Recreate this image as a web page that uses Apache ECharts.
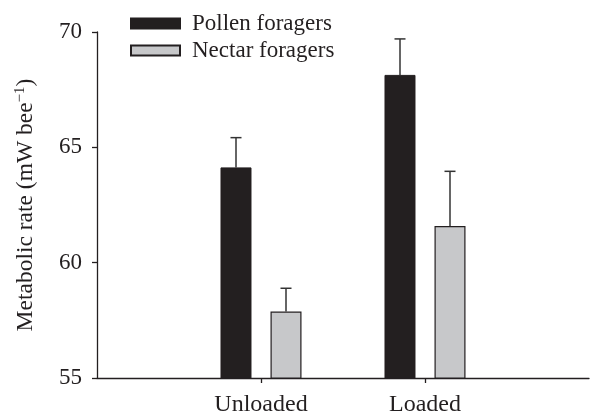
<!DOCTYPE html>
<html>
<head>
<meta charset="utf-8">
<script src="https://cdn.jsdelivr.net/npm/echarts@6/dist/echarts.min.js"></script>
<style>
  html, body { margin: 0; padding: 0; background: #fff; }
  #chart { width: 592px; height: 417px; }
</style>
</head>
<body>
<div id="chart"></div>
<script>
// Metabolic rate of pollen vs nectar foragers, unloaded and loaded (mean + SE)
const categories = ['Unloaded', 'Loaded'];
const seriesNames = ['Pollen foragers', 'Nectar foragers'];
const pollenMean = [64.13, 68.14];
const pollenSE = [1.29, 1.56];
const nectarMean = [57.88, 61.59];
const nectarSE = [1.01, 2.37];
const yTicks = [55, 60, 65, 70];

const FONT = '"Liberation Serif", "DejaVu Serif", serif';
const INK = '#231f20';
const POLLEN_FILL = '#231f20';
const NECTAR_FILL = '#c7c8ca';
const BAR_W = 31;
const BAR_GAP_PX = 19;

// Pad the category axis with blank slots so the two groups sit at 1/3 and 2/3
const axisCats = [''].concat(categories, ['']);
const pad = v => ['-'].concat(v, ['-']);

function errorData(means, se) {
  return means.map((m, i) => [i + 1, m, m + se[i]]);
}

function errorSeries(name, means, se, side) {
  return {
    type: 'custom',
    name: name + ' SE',
    silent: true,
    z: 1,
    data: errorData(means, se),
    renderItem: function (params, api) {
      const base = api.coord([api.value(0), api.value(1)]);
      const top = api.coord([api.value(0), api.value(2)]);
      const x = base[0] + side * (BAR_W + BAR_GAP_PX) / 2;
      const capHalf = 5.5;
      const style = { stroke: '#333', lineWidth: 1.5 };
      return {
        type: 'group',
        children: [
          { type: 'line', shape: { x1: x, y1: base[1], x2: x, y2: top[1] }, style: style },
          { type: 'line', shape: { x1: x - capHalf, y1: top[1], x2: x + capHalf, y2: top[1] }, style: style }
        ]
      };
    }
  };
}

const chart = echarts.init(document.getElementById('chart'));
chart.setOption({
  animation: false,
  backgroundColor: '#ffffff',
  textStyle: { fontFamily: FONT },
  grid: { left: 97, right: 0, top: 32, bottom: 38 },
  legend: {
    orient: 'vertical',
    left: 130,
    top: 12,
    padding: 0,
    icon: 'rect',
    itemWidth: 49,
    itemHeight: 10,
    itemGap: 4,
    data: seriesNames,
    textStyle: { fontFamily: FONT, fontSize: 23, color: INK, padding: [0, 0, 0, 7] }
  },
  xAxis: {
    type: 'category',
    data: axisCats,
    boundaryGap: false,
    axisLine: { lineStyle: { color: INK, width: 1.3 } },
    axisTick: {
      length: 5,
      lineStyle: { color: INK, width: 1.3 },
      interval: (idx, val) => val !== ''
    },
    axisLabel: {
      interval: 0,
      margin: 15,
      fontFamily: FONT,
      fontSize: 24,
      color: INK
    },
    splitLine: { show: false }
  },
  yAxis: {
    type: 'value',
    min: yTicks[0],
    max: yTicks[yTicks.length - 1],
    interval: yTicks[1] - yTicks[0],
    name: '{n|Metabolic rate (mW bee}{s|−1}{n|)}',
    nameLocation: 'middle',
    nameRotate: 90,
    nameGap: 59,
    nameTextStyle: {
      rich: {
        n: { fontFamily: FONT, fontSize: 23.5, color: INK },
        s: { fontFamily: FONT, fontSize: 15, color: INK, verticalAlign: 'top', padding: [0, 0, 10, 0] }
      }
    },
    axisLine: { show: true, lineStyle: { color: INK, width: 1.3 } },
    axisTick: { show: true, length: 5, lineStyle: { color: INK, width: 1.3 } },
    axisLabel: { margin: 15, fontFamily: FONT, fontSize: 23, color: INK },
    splitLine: { show: false }
  },
  series: [
    {
      type: 'bar',
      name: seriesNames[0],
      data: pad(pollenMean),
      barWidth: BAR_W,
      barGap: (BAR_GAP_PX / BAR_W * 100).toFixed(1) + '%',
      z: 2,
      itemStyle: { color: POLLEN_FILL, borderColor: INK, borderWidth: 1 }
    },
    {
      type: 'bar',
      name: seriesNames[1],
      data: pad(nectarMean),
      barWidth: BAR_W,
      z: 2,
      itemStyle: { color: NECTAR_FILL, borderColor: INK, borderWidth: 1.2 }
    },
    errorSeries(seriesNames[0], pollenMean, pollenSE, -1),
    errorSeries(seriesNames[1], nectarMean, nectarSE, 1)
  ]
});
</script>
</body>
</html>
